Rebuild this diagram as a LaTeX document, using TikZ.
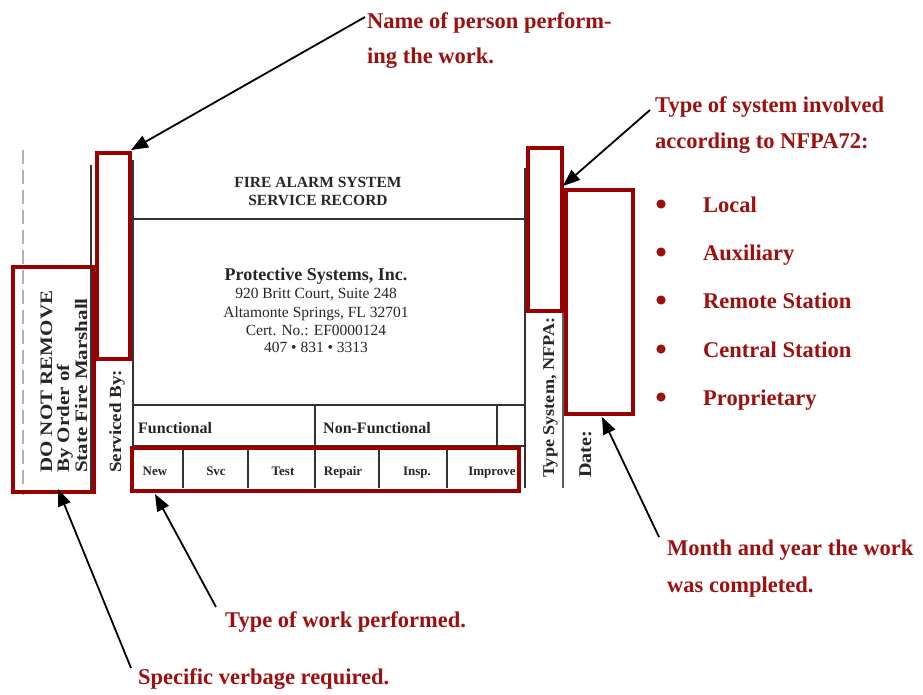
\documentclass[tikz,border=0pt]{standalone}
\usepackage{fontspec}
\setmainfont{Liberation Serif}
\usetikzlibrary{arrows.meta}
\definecolor{boxred}{HTML}{990000}
\definecolor{callred}{HTML}{9E1010}
\definecolor{scan}{HTML}{333333}
\begin{document}
\begin{tikzpicture}[x=1pt,y=-1pt,
  redbox/.style={draw=boxred,line width=3.8pt},
  scanline/.style={draw=scan,line width=1.3pt},
  callout/.style={text=callred,font=\fontsize{22.5}{26}\selectfont\bfseries,anchor=base west,inner sep=0pt},
  tagtxt/.style={text=black!85,inner sep=0pt,anchor=base},
  rtxt/.style={text=black!85,inner sep=0pt,anchor=base west,rotate=90},
  pointer/.style={draw=black,line width=1.8pt,-{Triangle[length=17pt,width=13pt]}}]
\useasboundingbox (0,0) rectangle (923,694);
% ---- tag outline (scan) ----
\draw[draw=black!30,line width=1.3pt,dash pattern=on 14pt off 6pt] (23,150) -- (23,495);
\draw[scanline] (91,165) -- (91,490);
\draw[scanline] (133,160) -- (133,490);
\draw[scanline] (133,219) -- (526,219);
\draw[scanline] (133,405) -- (526,405);
\draw[scanline] (133,446) -- (526,446);
\draw[scanline] (315,405) -- (315,446);
\draw[scanline] (497,405) -- (497,446);
\draw[scanline] (525,168) -- (525,488);
\draw[draw=scan!80,line width=1.3pt] (563,200) -- (563,488);
\foreach \xx in {183,248,315,379,447} \draw[scanline] (\xx,446) -- (\xx,488);
% ---- tag texts ----
\node[tagtxt,font=\fontsize{15.5}{18}\selectfont\bfseries] (h1) at (318,187) {FIRE ALARM SYSTEM};
\node[tagtxt,font=\fontsize{15.5}{18}\selectfont\bfseries] (h2) at (318,205) {SERVICE RECORD};
\node[tagtxt,font=\fontsize{18}{20}\selectfont\bfseries] (co) at (316,280) {Protective Systems, Inc.};
\node[tagtxt,font=\fontsize{15.5}{18}\selectfont] (a1) at (316,298) {920 Britt Court, Suite 248};
\node[tagtxt,font=\fontsize{15.5}{18}\selectfont] (a2) at (316,317) {Altamonte Springs, FL 32701};
\node[tagtxt,font=\fontsize{15.5}{18}\selectfont] (a3) at (316,335) {Cert. No.: EF0000124};
\node[tagtxt,font=\fontsize{15.5}{18}\selectfont] (a4) at (316,352) {407 • 831 • 3313};
\node[tagtxt,anchor=base west,font=\fontsize{16}{18}\selectfont\bfseries] (fn) at (138,433) {Functional};
\node[tagtxt,anchor=base west,font=\fontsize{16}{18}\selectfont\bfseries] (nf) at (323,433) {Non-Functional};
\foreach \xx/\tt/\nm in {155/New/c1,216/Svc/c2,283/Test/c3,343/Repair/c4,417/Insp./c5,492/Improve/c6}
  \node[tagtxt,font=\fontsize{13}{15}\selectfont\bfseries] (\nm) at (\xx,475) {\tt};
\node[rtxt,font=\fontsize{17.5}{20}\selectfont\bfseries\addfontfeatures{FakeStretch=1.2}] (dnr) at (52,473) {DO NOT REMOVE};
\node[rtxt,font=\fontsize{17.5}{20}\selectfont\bfseries\addfontfeatures{FakeStretch=1.2}] (boo) at (69,473) {By Order of};
\node[rtxt,font=\fontsize{17.5}{20}\selectfont\bfseries\addfontfeatures{FakeStretch=1.2}] (sfm) at (87,473) {State Fire Marshall};
\node[rtxt,font=\fontsize{17}{20}\selectfont\bfseries\addfontfeatures{FakeStretch=1.12}] (svb) at (121,473) {Serviced By:};
\node[rtxt,font=\fontsize{16.5}{20}\selectfont\bfseries\addfontfeatures{FakeStretch=1.1}] (tsn) at (554,478) {Type System, NFPA:};
\node[rtxt,font=\fontsize{18}{22}\selectfont\bfseries\addfontfeatures{FakeStretch=1.12}] (dat) at (591,478) {Date:};
% ---- red highlight boxes ----
\draw[redbox] (13,267) rectangle (94,492);
\draw[redbox] (97,153) rectangle (130,359);
\draw[redbox] (132,448) rectangle (519,491);
\draw[redbox] (528,148) rectangle (562,311);
\draw[redbox] (566,190) rectangle (633,414);
% ---- callouts ----
\node[callout] (n1) at (367,28) {Name of person perform-};
\node[callout] (n2) at (367,63) {ing the work.};
\node[callout] (t1) at (655,112) {Type of system involved};
\node[callout] (t2) at (655,148) {according to NFPA72:};
\foreach \yy/\tt/\nm in {212/Local/b1,260/Auxiliary/b2,308/Remote Station/b3,357/Central Station/b4,405/Proprietary/b5}{
  \fill[callred] (661,\yy-8) circle (4.6pt);
  \node[callout] (\nm) at (703,\yy) {\tt};
}
\node[callout] (m1) at (667,555) {Month and year the work};
\node[callout] (m2) at (667,592) {was completed.};
\node[callout] (w1) at (225,627) {Type of work performed.};
\node[callout] (v1) at (138,684) {Specific verbage required.};
% ---- pointers ----
\coordinate (pA) at (365,17);   \coordinate (tA) at (131,150);
\coordinate (pB) at (650,110);  \coordinate (tB) at (563,186);
\coordinate (pC) at (659,537);  \coordinate (tC) at (602,417);
\coordinate (pD) at (216,607);  \coordinate (tD) at (155,494);
\coordinate (pE) at (131,668);  \coordinate (tE) at (58,489);
\draw[pointer] (pA) -- (tA);
\draw[pointer] (pB) -- (tB);
\draw[pointer] (pC) -- (tC);
\draw[pointer] (pD) -- (tD);
\draw[pointer] (pE) -- (tE);
\end{tikzpicture}
\end{document}
